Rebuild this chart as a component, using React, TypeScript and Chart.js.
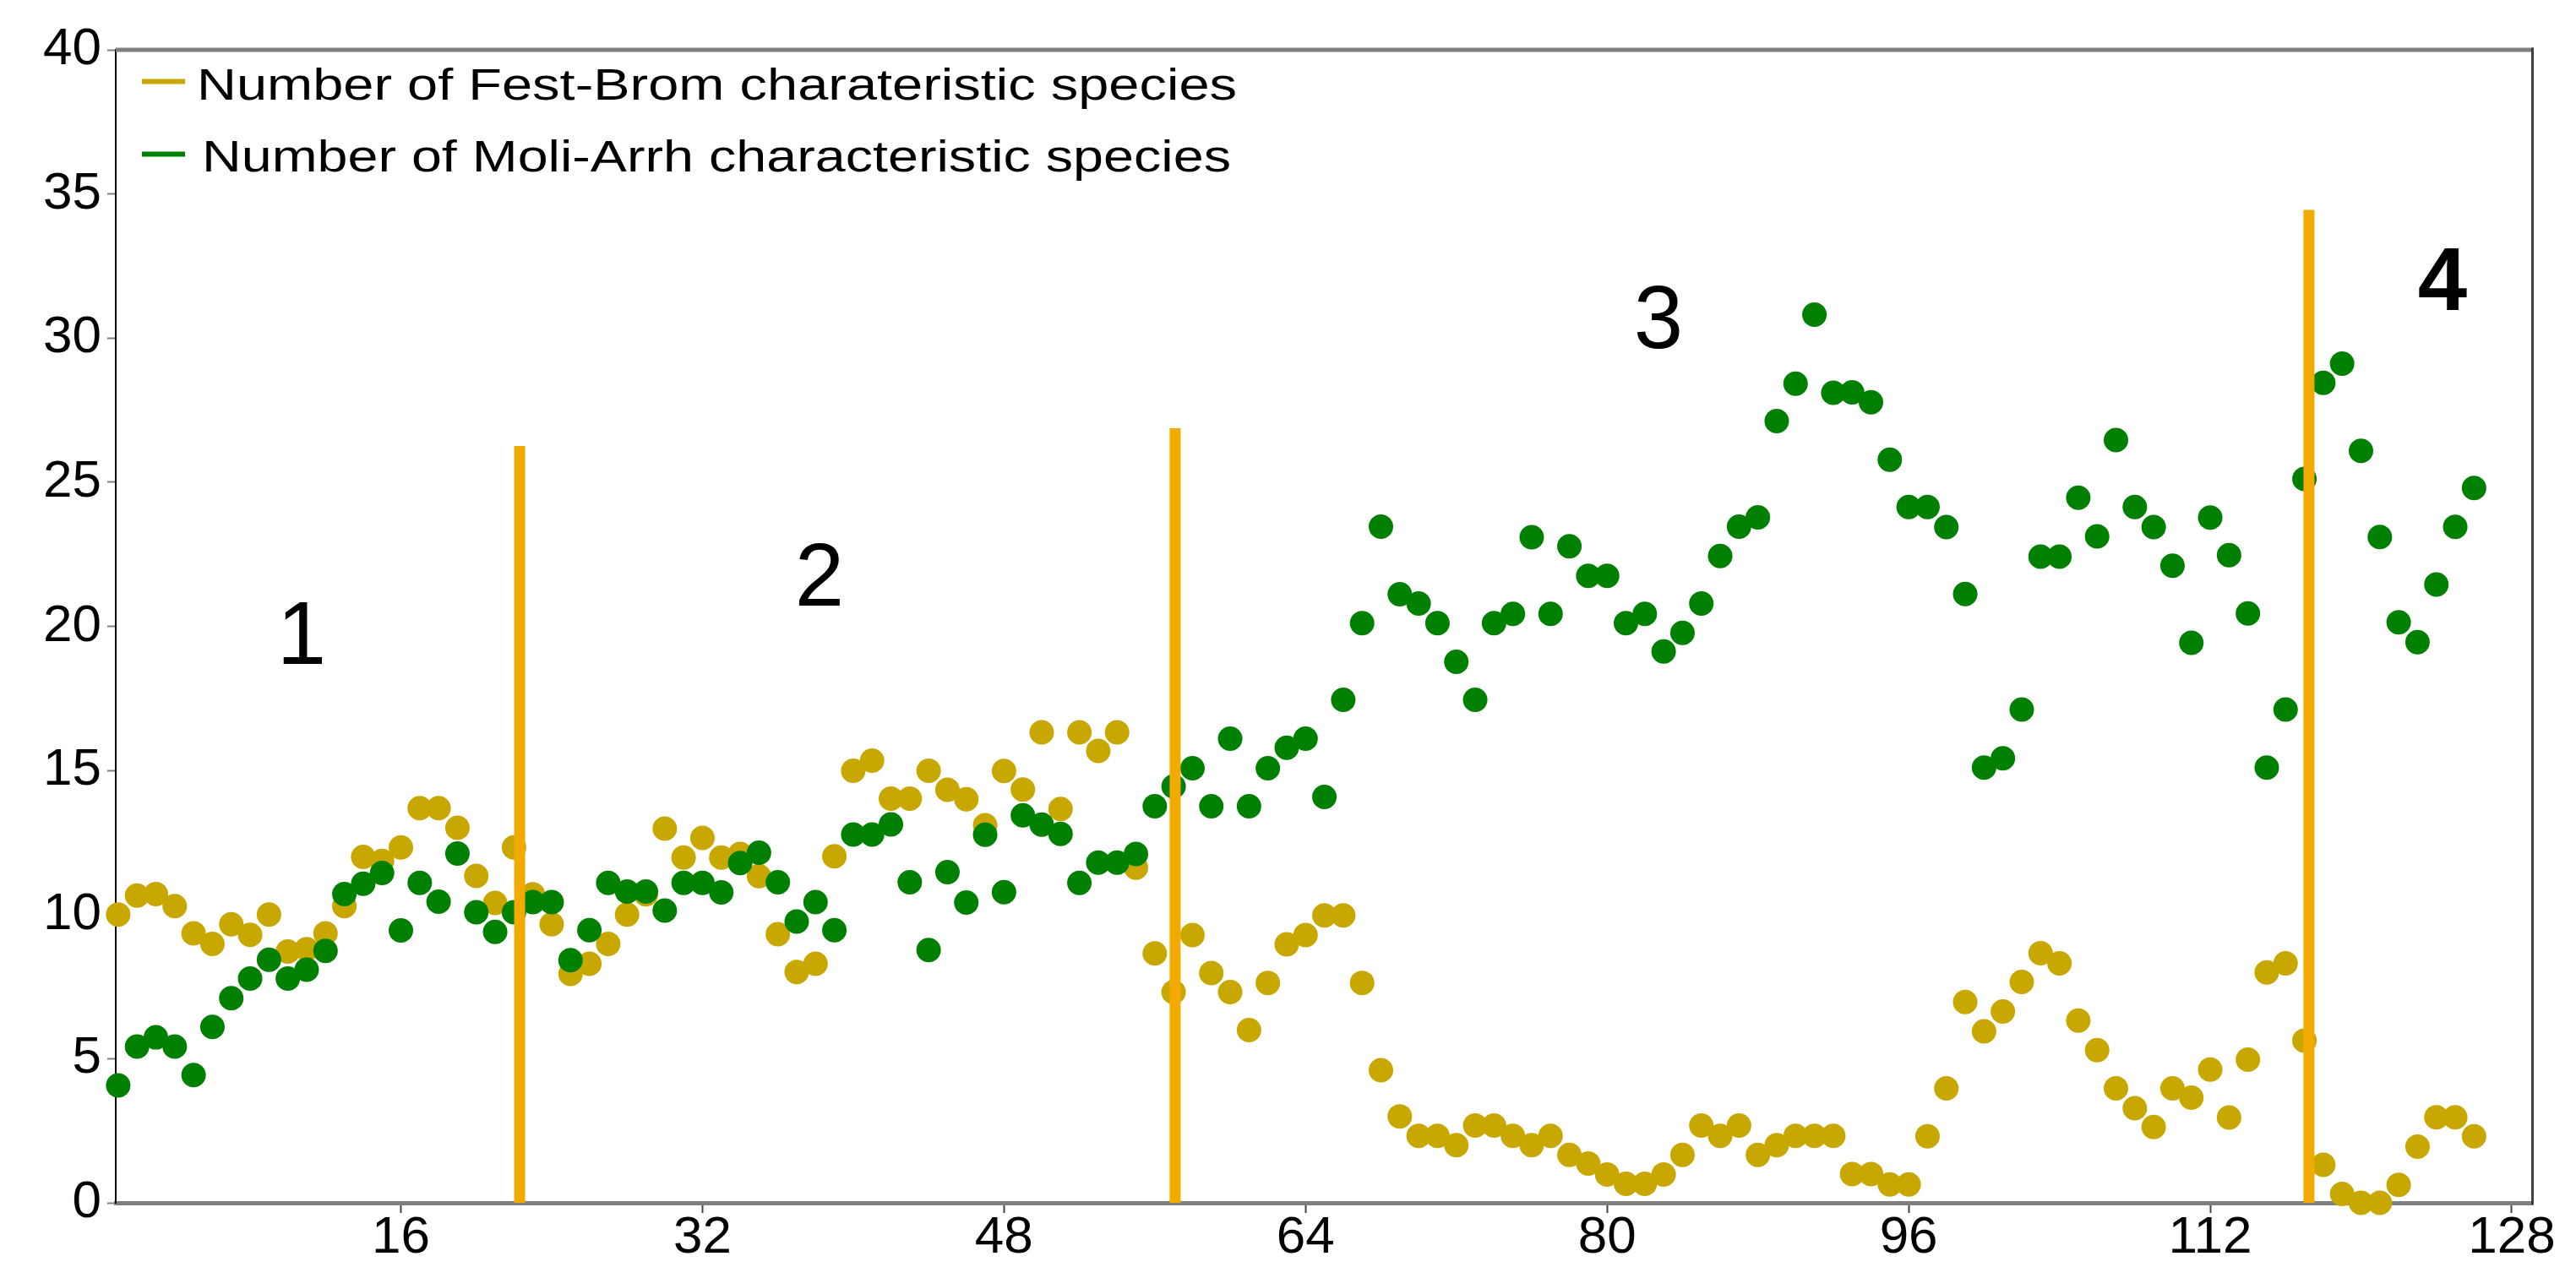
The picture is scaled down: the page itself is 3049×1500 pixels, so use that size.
import { useEffect, useRef } from 'react';
import { Chart, registerables } from 'chart.js';

Chart.register(...registerables);

// ---- data ----
const plotNumbers = [
  1, 2, 3, 4, 5, 6, 7, 8, 9, 10, 11, 12, 13, 14, 15, 16, 17, 18, 19, 20,
  21, 22, 23, 24, 25, 26, 27, 28, 29, 30, 31, 32, 33, 34, 35, 36, 37, 38, 39, 40,
  41, 42, 43, 44, 45, 46, 47, 48, 49, 50, 51, 52, 53, 54, 55, 56, 57, 58, 59, 60,
  61, 62, 63, 64, 65, 66, 67, 68, 69, 70, 71, 72, 73, 74, 75, 76, 77, 78, 79, 80,
  81, 82, 83, 84, 85, 86, 87, 88, 89, 90, 91, 92, 93, 94, 95, 96, 97, 98, 99, 100,
  101, 102, 103, 104, 105, 106, 107, 108, 109, 110, 111, 112, 113, 114, 115, 116, 117, 118, 119, 120,
  121, 122, 123, 124, 125, 126,
];

const festBrom = [
  10.0, 10.66, 10.71, 10.29, 9.35, 8.98, 9.66, 9.3, 10.0, 8.72,
  8.8, 9.35, 10.29, 12.0, 11.86, 12.33, 13.69, 13.69, 13.01, 11.34,
  10.4, 12.33, 10.7, 9.66, 7.94, 8.29, 8.98, 10.0, 10.7, 12.98,
  11.98, 12.66, 11.98, 12.1, 11.33, 9.32, 8.01, 8.29, 12.02, 14.99,
  15.34, 14.02, 14.02, 14.99, 14.33, 14.0, 13.1, 14.98, 14.34, 16.32,
  13.66, 16.32, 15.68, 16.32, 11.63, 8.65, 7.31, 9.29, 7.97, 7.31,
  5.99, 7.63, 8.97, 9.29, 9.97, 9.97, 7.63, 4.6, 3.0, 2.32,
  2.32, 2.0, 2.68, 2.68, 2.32, 2.0, 2.32, 1.66, 1.36, 0.98,
  0.66, 0.66, 0.98, 1.66, 2.68, 2.32, 2.68, 1.66, 2.0, 2.32,
  2.32, 2.32, 1.0, 1.0, 0.64, 0.64, 2.31, 3.97, 6.97, 5.95,
  6.64, 7.66, 8.66, 8.31, 6.32, 5.3, 3.97, 3.28, 2.63, 3.97,
  3.65, 4.62, 2.96, 4.97, 7.99, 8.31, 5.63, 1.32, 0.31, 0.0,
  0.0, 0.62, 1.95, 2.97, 2.97, 2.31,
];

const moliArrh = [
  4.07, 5.42, 5.74, 5.42, 4.43, 6.1, 7.1, 7.78, 8.43, 7.78,
  8.09, 8.74, 10.71, 11.07, 11.44, 9.45, 11.1, 10.45, 12.12, 10.08,
  9.4, 10.08, 10.43, 10.43, 8.42, 9.46, 11.1, 10.8, 10.8, 10.14,
  11.1, 11.1, 10.77, 11.79, 12.15, 11.12, 9.76, 10.43, 9.46, 12.78,
  12.78, 13.13, 11.12, 8.77, 11.47, 10.42, 12.77, 10.78, 13.44, 13.12,
  12.8, 11.1, 11.8, 11.8, 12.1, 13.76, 14.45, 15.08, 13.76, 16.1,
  13.76, 15.08, 15.79, 16.1, 14.08, 17.45, 20.11, 23.46, 21.11, 20.79,
  20.11, 18.77, 17.45, 20.11, 20.43, 23.09, 20.43, 22.78, 21.75, 21.75,
  20.11, 20.43, 19.13, 19.77, 20.79, 22.44, 23.46, 23.78, 27.12, 28.42,
  30.81, 28.1, 28.12, 27.77, 25.78, 24.14, 24.14, 23.44, 21.12, 15.1,
  15.42, 17.11, 22.42, 22.42, 24.46, 23.12, 26.46, 24.14, 23.44, 22.1,
  19.43, 23.77, 22.47, 20.45, 15.1, 17.11, 25.11, 28.45, 29.11, 26.09,
  23.1, 20.14, 19.45, 21.45, 23.45, 24.8,
];

const xTickValues = [16, 32, 48, 64, 80, 96, 112, 128];
const yTickValues = [0, 5, 10, 15, 20, 25, 30, 35, 40];

const dividerX = [22.3, 57.08, 117.24];
const dividerTop = [26.26, 26.87, 34.45];

const zoneLabels = ['1', '2', '3', '4'];
const zoneLabelX = [10.73, 38.21, 82.72, 124.32];
const zoneLabelY = [19.55, 21.58, 30.49, 31.82];
const zoneLabelBold = [false, false, false, true];

const seriesNames = [
  'Number of Fest-Brom charateristic species',
  'Number of Moli-Arrh characteristic species',
];

// ---- styles ----
const YELLOW = '#C8A700';
const GREEN = '#008000';
const ORANGE = '#F2A900';
const FONT = "'Liberation Sans', Arial, sans-serif";

const framePlugin = {
  id: 'frame',
  afterDraw(chart: any) {
    const { ctx, chartArea: a } = chart;
    ctx.save();
    ctx.strokeStyle = '#808080';
    ctx.lineWidth = 5;
    ctx.beginPath();
    ctx.moveTo(a.left, a.top);
    ctx.lineTo(a.right + 1.5, a.top);
    ctx.stroke();
    ctx.strokeStyle = '#3f3f3f';
    ctx.lineWidth = 3;
    ctx.beginPath();
    ctx.moveTo(a.right, a.top - 2.5);
    ctx.lineTo(a.right, a.bottom + 2.5);
    ctx.stroke();
    ctx.restore();
  },
};

const zoneLabelPlugin = {
  id: 'zoneLabels',
  afterDatasetsDraw(chart: any) {
    const { ctx } = chart;
    const xs = chart.scales.x;
    const ys = chart.scales.y;
    ctx.save();
    ctx.fillStyle = '#000';
    ctx.textAlign = 'center';
    ctx.textBaseline = 'middle';
    zoneLabels.forEach((t, i) => {
      ctx.font = `${zoneLabelBold[i] ? 'bold ' : ''}105px ${FONT}`;
      ctx.fillText(t, xs.getPixelForValue(zoneLabelX[i]), ys.getPixelForValue(zoneLabelY[i]));
    });
    ctx.restore();
  },
};

const legendPlugin = {
  id: 'customLegend',
  afterDraw(chart: any) {
    const { ctx } = chart;
    const items = [
      { color: chart.data.datasets[0].backgroundColor, dashY: 96.5, textX: 233, baseY: 118, width: 1231 },
      { color: chart.data.datasets[1].backgroundColor, dashY: 182.5, textX: 239, baseY: 203, width: 1218 },
    ];
    ctx.save();
    items.forEach((it, i) => {
      ctx.fillStyle = it.color;
      ctx.fillRect(168, it.dashY - 3, 51, 6);
      ctx.font = `51px ${FONT}`;
      ctx.fillStyle = '#000';
      ctx.textAlign = 'left';
      ctx.textBaseline = 'alphabetic';
      const w = ctx.measureText(seriesNames[i]).width;
      ctx.save();
      ctx.translate(it.textX, it.baseY);
      ctx.scale(it.width / w, 1);
      ctx.fillText(seriesNames[i], 0, 0);
      ctx.restore();
    });
    ctx.restore();
  },
};

export default function App() {
  const ref = useRef<HTMLCanvasElement | null>(null);

  useEffect(() => {
    document.body.style.margin = '0';
    if (!ref.current) return;

    const dividers = dividerX.map((x, i) => ({
      type: 'line' as const,
      label: `divider${i}`,
      data: [
        { x, y: 0 },
        { x, y: dividerTop[i] },
      ],
      borderColor: ORANGE,
      backgroundColor: ORANGE,
      borderWidth: 13,
      borderCapStyle: 'butt' as const,
      pointRadius: 0,
      showLine: true,
      clip: false as any,
      order: 1,
    }));

    const chart = new Chart(ref.current, {
      type: 'scatter',
      data: {
        datasets: [
          {
            label: seriesNames[0],
            data: plotNumbers.map((x, i) => ({ x, y: festBrom[i] })),
            backgroundColor: YELLOW,
            borderColor: YELLOW,
            borderWidth: 0,
            pointRadius: 14.5,
            clip: false as any,
            order: 3,
          },
          {
            label: seriesNames[1],
            data: plotNumbers.map((x, i) => ({ x, y: moliArrh[i] })),
            backgroundColor: GREEN,
            borderColor: GREEN,
            borderWidth: 0,
            pointRadius: 14.5,
            clip: false as any,
            order: 2,
          },
          ...dividers,
        ] as any,
      },
      options: {
        animation: false,
        responsive: false,
        devicePixelRatio: 1,
        layout: { padding: { left: 0, top: 59, right: 51.5, bottom: 0 } },
        plugins: {
          legend: { display: false },
          tooltip: { enabled: false },
        },
        scales: {
          x: {
            type: 'linear',
            min: 0.87,
            max: 129.1,
            afterBuildTicks: (scale: any) => {
              scale.ticks = xTickValues.map((v) => ({ value: v }));
            },
            afterFit: (scale: any) => {
              scale.height = 76;
            },
            grid: {
              display: true,
              drawOnChartArea: false,
              drawTicks: true,
              tickLength: 12,
              tickWidth: 2,
              tickColor: '#444',
            },
            border: { display: true, color: '#7f7f7f', width: 5 },
            ticks: {
              autoSkip: false,
              maxRotation: 0,
              padding: -1,
              color: '#000',
              font: { family: FONT, size: 62, lineHeight: 1 },
            },
          },
          y: {
            type: 'linear',
            min: 0,
            max: 40,
            afterBuildTicks: (scale: any) => {
              scale.ticks = yTickValues.map((v) => ({ value: v }));
            },
            afterFit: (scale: any) => {
              scale.width = 137;
            },
            grid: {
              display: true,
              drawOnChartArea: false,
              drawTicks: true,
              tickLength: 10,
              tickWidth: 2,
              tickColor: '#808080',
            },
            border: { display: true, color: '#000', width: 2 },
            ticks: {
              padding: 7,
              color: '#000',
              font: { family: FONT, size: 62, lineHeight: 1 },
            },
          },
        },
      },
      plugins: [framePlugin, zoneLabelPlugin, legendPlugin],
    });

    return () => chart.destroy();
  }, []);

  return (
    <div style={{ width: 3049, height: 1500, background: '#fff' }}>
      <canvas ref={ref} width={3049} height={1500} style={{ display: 'block', width: 3049, height: 1500 }} />
    </div>
  );
}
